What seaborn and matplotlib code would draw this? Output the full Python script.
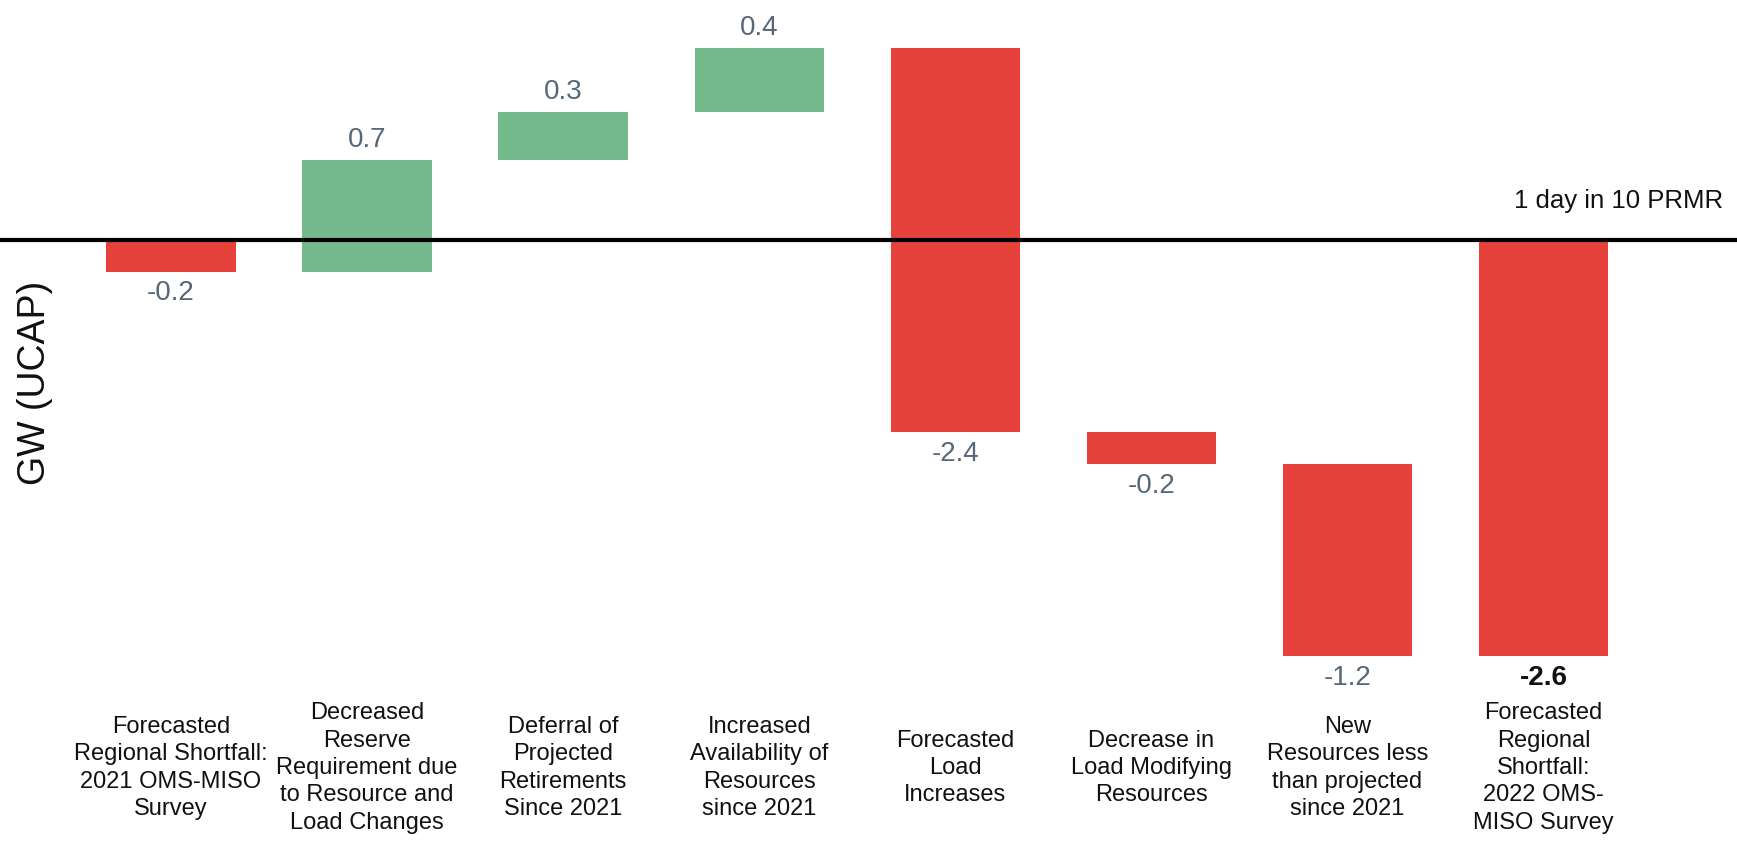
import matplotlib
matplotlib.use("Agg")
import matplotlib.pyplot as plt
import matplotlib.transforms as mtransforms
import numpy as np
import pandas as pd
import seaborn as sns

# Shortfall bridge, GW (UCAP)
categories = [
    "Forecasted\nRegional Shortfall:\n2021 OMS-MISO\nSurvey",
    "Decreased\nReserve\nRequirement due\nto Resource and\nLoad Changes",
    "Deferral of\nProjected\nRetirements\nSince 2021",
    "Increased\nAvailability of\nResources\nsince 2021",
    "Forecasted\nLoad\nIncreases",
    "Decrease in\nLoad Modifying\nResources",
    "New\nResources less\nthan projected\nsince 2021",
    "Forecasted\nRegional\nShortfall:\n2022 OMS-\nMISO Survey",
]
changes = [-0.2, 0.7, 0.3, 0.4, -2.4, -0.2, -1.2]
total = -2.6
reference_label = "1 day in 10 PRMR"
y_label = "GW (UCAP)"

RED = "#e6423b"
GREEN = "#74b98b"
VALUE_GREY = "#56677a"

# waterfall geometry: each step starts where the previous one ended,
# the final bar is drawn from zero
starts = np.concatenate([[0.0], np.cumsum(changes)[:-1]])
bottoms = list(starts) + [0.0]
heights = list(changes) + [total]
ends = [b + h for b, h in zip(bottoms, heights)]

df = pd.DataFrame({"category": categories, "height": heights})

sns.set_theme(style="white")
plt.rcParams["font.family"] = ["Liberation Sans", "DejaVu Sans"]

fig = plt.figure(figsize=(17.37, 8.42), dpi=100)
ax = fig.add_axes([0, 0, 1, 1])

sns.barplot(data=df, x="category", y="height", bottom=bottoms,
            width=0.66, color=RED, linewidth=0, ax=ax, zorder=2)
for patch, h in zip(ax.patches, heights):
    patch.set_facecolor(GREEN if h > 0 else RED)
    patch.set_edgecolor("none")

ax.set_xlim(-0.872, 7.986)
ax.set_ylim(-3.76, 1.50)
ax.axis("off")

# zero / requirement line across the whole width
ax.axhline(0, color="black", linewidth=3.0, zorder=3)
ax.text(7.914, 0.2, reference_label, ha="right", va="baseline",
        fontsize=18.5, color="#111111")

# value labels at the end of each bar
for i, (h, e) in enumerate(zip(heights, ends)):
    last = i == len(heights) - 1
    txt = f"{h:.1f}"
    if h > 0:
        ax.annotate(txt, (i, e), xytext=(0, 5), textcoords="offset points",
                    ha="center", va="bottom", fontsize=20, color=VALUE_GREY)
    else:
        ax.annotate(txt, (i, e), xytext=(0, -6), textcoords="offset points",
                    ha="center", va="top", fontsize=20,
                    color="#111111" if last else VALUE_GREY,
                    fontweight="bold" if last else "normal")

# category names beneath the bars
trans = mtransforms.blended_transform_factory(ax.transData, ax.transAxes)
for i, name in enumerate(categories):
    ax.text(i, 1 - 768 / 842, name, transform=trans, ha="center",
            va="center", fontsize=17, linespacing=1.32, color="#111111",
            multialignment="center")

fig.text(35 / 1737, 1 - 383 / 842, y_label, rotation=90, ha="center",
         va="center", fontsize=27, color="#111111")

fig.savefig("out.png", dpi=100)
